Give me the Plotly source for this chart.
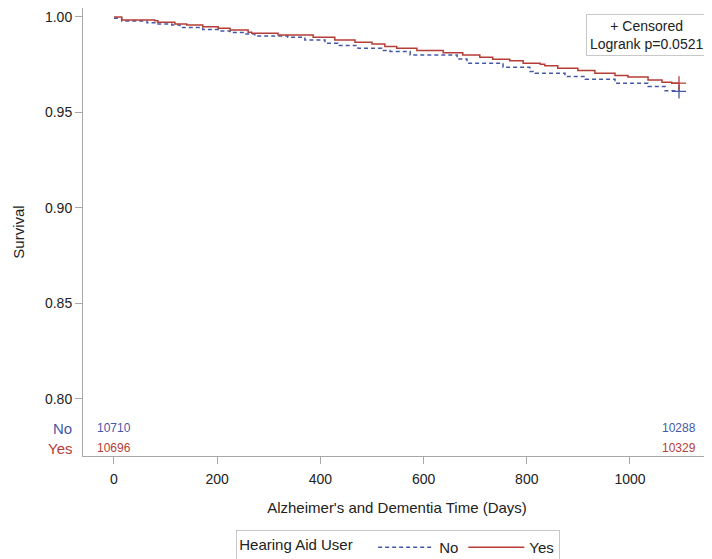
import plotly.graph_objects as go

# Kaplan-Meier step data
yes_days = [0, 15, 79, 85, 118, 141, 172, 202, 225, 260, 267, 318, 386, 428, 467, 500, 525, 548, 587, 638,
            676, 709, 734, 767, 793, 826, 835, 860, 899, 932, 971, 996, 1035, 1062, 1081, 1095]
yes_surv = [1.000, 0.9984, 0.9980, 0.9972, 0.9963, 0.9958, 0.9949, 0.9941, 0.9932, 0.9920, 0.9915, 0.9906,
            0.9894, 0.9880, 0.9868, 0.9859, 0.9845, 0.9836, 0.9824, 0.9813, 0.9801, 0.9789, 0.9778, 0.9770,
            0.9758, 0.9752, 0.9744, 0.9732, 0.9719, 0.9705, 0.9693, 0.9685, 0.9670, 0.9658, 0.9653, 0.9653]

no_days = [0, 15, 64, 83, 112, 128, 172, 205, 225, 254, 273, 337, 370, 409, 434, 473, 519, 535, 574, 665,
           684, 754, 806, 816, 874, 913, 971, 1035, 1068, 1095]
no_surv = [0.9993, 0.9979, 0.9970, 0.9963, 0.9958, 0.9945, 0.9935, 0.9927, 0.9919, 0.9911, 0.9900, 0.9894,
           0.9880, 0.9862, 0.9850, 0.9836, 0.9824, 0.9819, 0.9801, 0.9780, 0.9758, 0.9737, 0.9714, 0.9705,
           0.9688, 0.9674, 0.9653, 0.9636, 0.9613, 0.9610]

censor_day = 1095
groups = ["No", "Yes"]
at_risk_days = [0, 1095]
at_risk_no = [10710, 10288]
at_risk_yes = [10696, 10329]

y_ticks = [0.80, 0.85, 0.90, 0.95, 1.00]
x_ticks = [0, 200, 400, 600, 800, 1000]

BLUE = "#4458A6"
RED = "#B53D37"
GRAY = "#A8A8A8"
FONT = "Liberation Sans"

fig = go.Figure()
fig.add_trace(go.Scatter(x=no_days, y=no_surv, mode="lines",
                         line=dict(color=BLUE, width=1.5, dash="4px,3px", shape="hv"), name="No"))
fig.add_trace(go.Scatter(x=yes_days, y=yes_surv, mode="lines",
                         line=dict(color=RED, width=1.5, shape="hv"), name="Yes"))
fig.add_trace(go.Scatter(x=[censor_day], y=[no_surv[-1]], mode="markers", showlegend=False,
                         marker=dict(symbol="cross-thin", size=10, line=dict(color=BLUE, width=1.3))))
fig.add_trace(go.Scatter(x=[censor_day], y=[yes_surv[-1]], mode="markers", showlegend=False,
                         marker=dict(symbol="cross-thin", size=10, line=dict(color=RED, width=1.3))))

ann = []
for d, n in zip(at_risk_days, at_risk_no):
    ann.append(dict(x=d, y=0.7845, xref="x", yref="y", text=str(n), showarrow=False,
                    font=dict(color=BLUE, size=12, family=FONT)))
for d, n in zip(at_risk_days, at_risk_yes):
    ann.append(dict(x=d, y=0.7740, xref="x", yref="y", text=str(n), showarrow=False,
                    font=dict(color=RED, size=12, family=FONT)))
ann.append(dict(x=-0.015, y=0.7845, xref="paper", yref="y", text="No", showarrow=False, xanchor="right",
                font=dict(color=BLUE, size=15, family=FONT)))
ann.append(dict(x=-0.015, y=0.7740, xref="paper", yref="y", text="Yes", showarrow=False, xanchor="right",
                font=dict(color=RED, size=15, family=FONT)))
ann.append(dict(x=0.994, y=0.986, xref="paper", yref="paper", xanchor="right", yanchor="top",
                text="+ Censored<br>Logrank p=0.0521", showarrow=False, align="center",
                bordercolor="#C8C8C8", borderwidth=1, borderpad=3, bgcolor="white",
                font=dict(color="#222", size=14, family=FONT)))

# The page body has an 8px margin, so the figure is sized to fit the 712x559 window.
fig.update_layout(
    width=704, height=551,
    margin=dict(l=75, r=1, t=0, b=103, autoexpand=False),
    plot_bgcolor="white", paper_bgcolor="white",
    font=dict(family=FONT, size=14, color="#222"),
    annotations=ann,
    legend=dict(orientation="h", x=0.502, xanchor="center", y=-0.165, yanchor="top",
                title=dict(text="Hearing Aid User   ", font=dict(size=15)),
                bordercolor="#C8C8C8", borderwidth=1, font=dict(size=15),
                itemwidth=56, tracegroupgap=0),
    xaxis=dict(range=[-60, 1157], tickvals=x_ticks, ticks="outside", ticklen=7, tickcolor=GRAY,
               showline=True, linecolor=GRAY, mirror=True, showgrid=False, zeroline=False, automargin=False,
               ticklabelstandoff=3,
               title=dict(text="Alzheimer's and Dementia Time (Days)", font=dict(size=15), standoff=16),
               tickfont=dict(size=14)),
    yaxis=dict(range=[0.770, 1.0047], tickvals=y_ticks, tickformat=".2f", ticks="outside", ticklen=7,
               tickcolor=GRAY, showline=True, linecolor=GRAY, mirror=True, showgrid=False, zeroline=False,
               automargin=False,
               title=dict(text="Survival", font=dict(size=15), standoff=16),
               tickfont=dict(size=14)),
)

fig.write_html("out.html")
